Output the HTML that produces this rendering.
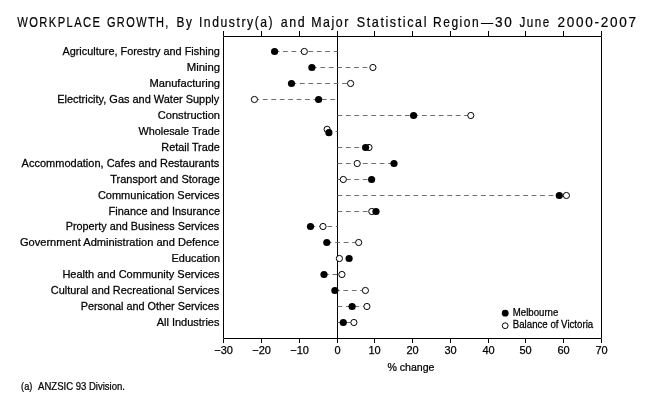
<!DOCTYPE html>
<html><head><meta charset="utf-8"><style>
html,body{margin:0;padding:0;background:#fff;}
svg{display:block;will-change:transform;}
text{font-family:"Liberation Sans",sans-serif;fill:#000;stroke:#000;stroke-width:0.25px;}
</style></head><body>
<svg width="663" height="406" viewBox="0 0 663 406">
<path d="M223.5 338.5V36.5H601.5V338.5Z" fill="none" stroke="#000"/>
<path d="M223.5 31V36M223.5 339V343" stroke="#000"/>
<path d="M261.5 31V36M261.5 339V343" stroke="#000"/>
<path d="M299.5 31V36M299.5 339V343" stroke="#000"/>
<path d="M337.5 31V36M337.5 339V343" stroke="#000"/>
<path d="M374.5 31V36M374.5 339V343" stroke="#000"/>
<path d="M412.5 31V36M412.5 339V343" stroke="#000"/>
<path d="M450.5 31V36M450.5 339V343" stroke="#000"/>
<path d="M488.5 31V36M488.5 339V343" stroke="#000"/>
<path d="M525.5 31V36M525.5 339V343" stroke="#000"/>
<path d="M563.5 31V36M563.5 339V343" stroke="#000"/>
<path d="M601.5 31V36M601.5 339V343" stroke="#000"/>
<path d="M337.5 36V339" stroke="#000"/>
<path d="M274.6 51.5H337.5" stroke="#6e6e6e" stroke-dasharray="4.8 3.64"/>
<circle cx="274.6" cy="51.5" r="3.6"/><circle cx="304.3" cy="51.5" r="3.1" fill="#fff" stroke="#000"/>
<path d="M311.9 67.5H372.9" stroke="#6e6e6e" stroke-dasharray="4.8 3.64"/>
<circle cx="311.9" cy="67.5" r="3.6"/><circle cx="372.9" cy="67.5" r="3.1" fill="#fff" stroke="#000"/>
<path d="M291.5 83.5H350.6" stroke="#6e6e6e" stroke-dasharray="4.8 3.64"/>
<circle cx="291.5" cy="83.5" r="3.6"/><circle cx="350.6" cy="83.5" r="3.1" fill="#fff" stroke="#000"/>
<path d="M254.4 99.5H337.5" stroke="#6e6e6e" stroke-dasharray="4.8 3.64"/>
<circle cx="318.6" cy="99.5" r="3.6"/><circle cx="254.4" cy="99.5" r="3.1" fill="#fff" stroke="#000"/>
<path d="M337.5 115.5H470.8" stroke="#6e6e6e" stroke-dasharray="4.8 3.64"/>
<circle cx="413.6" cy="115.5" r="3.6"/><circle cx="470.8" cy="115.5" r="3.1" fill="#fff" stroke="#000"/>
<path d="M327.1 131.5H337.5" stroke="#6e6e6e" stroke-dasharray="4.8 3.64"/>
<circle cx="327.1" cy="129.3" r="3.1" fill="#fff" stroke="#000"/><circle cx="328.9" cy="132.7" r="3.6"/>
<path d="M337.5 147.5H369.0" stroke="#6e6e6e" stroke-dasharray="4.8 3.64"/>
<circle cx="369.0" cy="147.5" r="3.1" fill="#fff" stroke="#000"/><circle cx="365.6" cy="147.5" r="3.6"/>
<path d="M337.5 163.5H394.0" stroke="#6e6e6e" stroke-dasharray="4.8 3.64"/>
<circle cx="394.0" cy="163.5" r="3.6"/><circle cx="357.2" cy="163.5" r="3.1" fill="#fff" stroke="#000"/>
<path d="M337.5 179.5H371.6" stroke="#6e6e6e" stroke-dasharray="4.8 3.64"/>
<circle cx="371.6" cy="179.5" r="3.6"/><circle cx="343.3" cy="179.5" r="3.1" fill="#fff" stroke="#000"/>
<path d="M337.5 195.5H566.4" stroke="#6e6e6e" stroke-dasharray="4.8 3.64"/>
<circle cx="566.4" cy="195.5" r="3.1" fill="#fff" stroke="#000"/><circle cx="559.3" cy="195.5" r="3.6"/>
<path d="M337.5 211.5H376.0" stroke="#6e6e6e" stroke-dasharray="4.8 3.64"/>
<circle cx="371.8" cy="211.5" r="3.1" fill="#fff" stroke="#000"/><circle cx="376.0" cy="211.5" r="3.6"/>
<path d="M310.5 226.5H337.5" stroke="#6e6e6e" stroke-dasharray="4.8 3.64"/>
<circle cx="310.5" cy="226.5" r="3.6"/><circle cx="323.0" cy="226.5" r="3.1" fill="#fff" stroke="#000"/>
<path d="M326.8 242.5H358.7" stroke="#6e6e6e" stroke-dasharray="4.8 3.64"/>
<circle cx="326.8" cy="242.5" r="3.6"/><circle cx="358.7" cy="242.5" r="3.1" fill="#fff" stroke="#000"/>
<path d="M337.5 258.5H349.1" stroke="#6e6e6e" stroke-dasharray="4.8 3.64"/>
<circle cx="349.1" cy="258.5" r="3.6"/><circle cx="339.4" cy="258.5" r="3.1" fill="#fff" stroke="#000"/>
<path d="M324.0 274.5H341.9" stroke="#6e6e6e" stroke-dasharray="4.8 3.64"/>
<circle cx="324.0" cy="274.5" r="3.6"/><circle cx="341.9" cy="274.5" r="3.1" fill="#fff" stroke="#000"/>
<path d="M334.9 290.5H365.4" stroke="#6e6e6e" stroke-dasharray="4.8 3.64"/>
<circle cx="334.9" cy="290.5" r="3.6"/><circle cx="365.4" cy="290.5" r="3.1" fill="#fff" stroke="#000"/>
<path d="M337.5 306.5H366.9" stroke="#6e6e6e" stroke-dasharray="4.8 3.64"/>
<circle cx="352.1" cy="306.5" r="3.6"/><circle cx="366.9" cy="306.5" r="3.1" fill="#fff" stroke="#000"/>
<path d="M337.5 322.5H353.9" stroke="#6e6e6e" stroke-dasharray="4.8 3.64"/>
<circle cx="343.3" cy="322.5" r="3.6"/><circle cx="353.9" cy="322.5" r="3.1" fill="#fff" stroke="#000"/>
<circle cx="505.2" cy="313.2" r="3.4"/>
<circle cx="505.2" cy="325.7" r="2.9" fill="#fff" stroke="#000"/>
<text transform="translate(62.40 55.1) scale(0.9922 1)" font-size="11">Agriculture, Forestry and Fishing</text>
<text transform="translate(186.70 71.1) scale(1.0314 1)" font-size="11">Mining</text>
<text transform="translate(149.50 87.1) scale(1.0131 1)" font-size="11">Manufacturing</text>
<text transform="translate(57.20 103.1) scale(0.9981 1)" font-size="11">Electricity, Gas and Water Supply</text>
<text transform="translate(157.70 119.1) scale(1.0108 1)" font-size="11">Construction</text>
<text transform="translate(138.40 135.1) scale(0.9876 1)" font-size="11">Wholesale Trade</text>
<text transform="translate(161.30 151.1) scale(0.9884 1)" font-size="11">Retail Trade</text>
<text transform="translate(21.60 167.1) scale(1.0021 1)" font-size="11">Accommodation, Cafes and Restaurants</text>
<text transform="translate(110.20 183.1) scale(1.0024 1)" font-size="11">Transport and Storage</text>
<text x="97.90" y="199.1" font-size="11">Communication Services</text>
<text transform="translate(108.60 215.1) scale(0.9965 1)" font-size="11">Finance and Insurance</text>
<text transform="translate(65.70 230.1) scale(0.9865 1)" font-size="11">Property and Business Services</text>
<text transform="translate(20.00 246.1) scale(1.0071 1)" font-size="11">Government Administration and Defence</text>
<text transform="translate(171.60 262.1) scale(0.9916 1)" font-size="11">Education</text>
<text x="62.40" y="278.1" font-size="11">Health and Community Services</text>
<text transform="translate(50.80 294.1) scale(0.9961 1)" font-size="11">Cultural and Recreational Services</text>
<text transform="translate(80.70 310.1) scale(0.9871 1)" font-size="11">Personal and Other Services</text>
<text transform="translate(156.70 326.1) scale(0.9973 1)" font-size="11">All Industries</text>
<text x="214.23" y="353.6" font-size="11">−30</text>
<text x="252.23" y="353.6" font-size="11">−20</text>
<text x="290.23" y="353.6" font-size="11">−10</text>
<text x="334.50" y="353.6" font-size="11">0</text>
<text x="368.44" y="353.6" font-size="11">10</text>
<text x="406.44" y="353.6" font-size="11">20</text>
<text x="444.44" y="353.6" font-size="11">30</text>
<text x="482.44" y="353.6" font-size="11">40</text>
<text x="519.44" y="353.6" font-size="11">50</text>
<text x="557.44" y="353.6" font-size="11">60</text>
<text x="595.44" y="353.6" font-size="11">70</text>
<text transform="translate(387.40 370.8) scale(0.9630 1)" font-size="11">% change</text>
<text transform="translate(512.80 316.0) scale(0.9646 1)" font-size="10">Melbourne</text>
<text transform="translate(512.80 328.0) scale(0.9661 1)" font-size="10">Balance of Victoria</text>
<text transform="translate(17.20 26.9) scale(0.7887 1)" font-size="14.2" letter-spacing="1.8" style="stroke-width:0.2px">WORKPLACE</text>
<text transform="translate(106.90 26.9) scale(0.7753 1)" font-size="14.2" letter-spacing="1.8" style="stroke-width:0.2px">GROWTH,</text>
<text transform="translate(176.57 26.9) scale(0.8323 1)" font-size="14.2" letter-spacing="1.8" style="stroke-width:0.2px">By</text>
<text transform="translate(198.94 26.9) scale(0.8587 1)" font-size="14.2" letter-spacing="1.8" style="stroke-width:0.2px">Industry(a)</text>
<text transform="translate(280.70 26.9) scale(0.8756 1)" font-size="14.2" letter-spacing="1.8" style="stroke-width:0.2px">and</text>
<text transform="translate(311.13 26.9) scale(0.8724 1)" font-size="14.2" letter-spacing="1.8" style="stroke-width:0.2px">Major</text>
<text transform="translate(356.80 26.9) scale(0.8847 1)" font-size="14.2" letter-spacing="1.8" style="stroke-width:0.2px">Statistical</text>
<text transform="translate(433.05 26.9) scale(0.8450 1)" font-size="14.2" letter-spacing="1.8" style="stroke-width:0.2px">Region</text>
<text transform="translate(480.90 26.9) scale(0.8533 1)" font-size="14.2" letter-spacing="1.8" style="stroke-width:0.2px">—</text>
<text transform="translate(495.00 26.9) scale(0.9553 1)" font-size="14.2" letter-spacing="1.8" style="stroke-width:0.2px">30</text>
<text transform="translate(519.50 26.9) scale(0.8215 1)" font-size="14.2" letter-spacing="1.8" style="stroke-width:0.2px">June</text>
<text transform="translate(557.50 26.9) scale(0.9556 1)" font-size="14.2" letter-spacing="1.8" style="stroke-width:0.2px">2000-2007</text>
<text transform="translate(21.10 389.7) scale(0.8836 1)" font-size="10.5">(a)</text>
<text transform="translate(38.10 389.7) scale(0.9095 1)" font-size="10.5">ANZSIC 93 Division.</text>
</svg>
</body></html>
